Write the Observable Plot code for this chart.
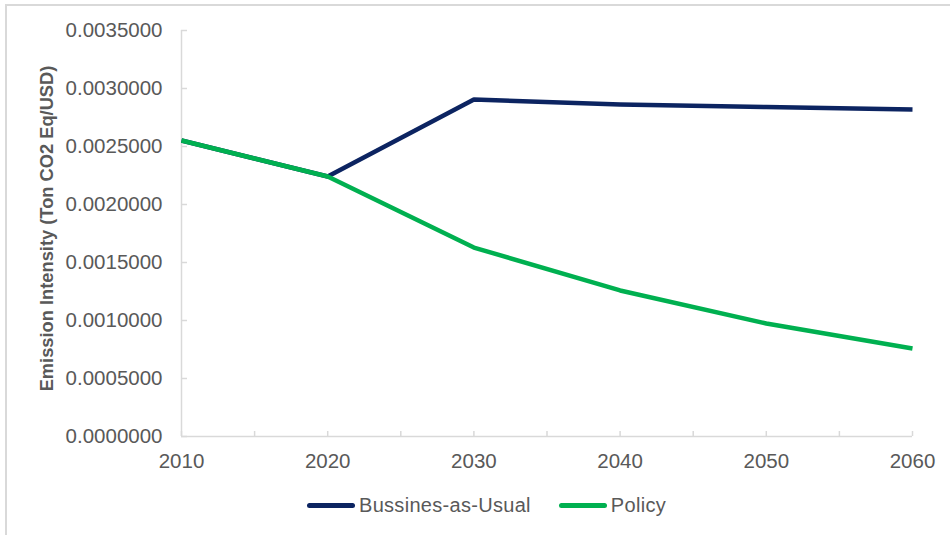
<!DOCTYPE html>
<html>
<head>
<meta charset="utf-8">
<script src="https://cdn.jsdelivr.net/npm/d3@7"></script>
<script src="https://cdn.jsdelivr.net/npm/@observablehq/plot@0.6"></script>
<style>
  html, body { margin: 0; padding: 0; background: #fff; }
  body { width: 950px; height: 535px; position: relative; overflow: hidden; font-family: "Liberation Sans", Arial, sans-serif; }
  #frame { position: absolute; left: 5px; top: 4px; width: 960px; height: 560px; border-top: 2px solid #d9d9d9; border-left: 2px solid #d9d9d9; box-sizing: border-box; }
  #chart { position: absolute; left: 0; top: 0; }
  #legend { position: absolute; left: 307px; top: 494px; display: flex; align-items: center; font-size: 20px; color: #595959; letter-spacing: 0.3px; }
  .item { display: flex; align-items: center; }
  .sw { width: 48px; height: 5px; border-radius: 3px; margin-right: 4px; }
</style>
</head>
<body>
<div id="frame"></div>
<div id="chart"></div>
<div id="legend"></div>
<script>
const years = [2010, 2020, 2030, 2040, 2050, 2060];
const seriesNames = ["Bussines-as-Usual", "Policy"];
const bauValues = [0.002552, 0.002241, 0.002905, 0.002862, 0.002840, 0.002819];
const policyValues = [0.002552, 0.002241, 0.001629, 0.001259, 0.000974, 0.000759];
const seriesColors = ["#0c2461", "#00b050"];
const yTicks = [0, 0.0005, 0.001, 0.0015, 0.002, 0.0025, 0.003, 0.0035];
const xTicks = [2010, 2015, 2020, 2025, 2030, 2035, 2040, 2045, 2050, 2055, 2060];
const yTitle = "Emission Intensity (Ton CO2 Eq/USD)";

const data = [
  ...years.map((yr, i) => ({year: yr, value: bauValues[i], series: seriesNames[0]})),
  ...years.map((yr, i) => ({year: yr, value: policyValues[i], series: seriesNames[1]}))
];

const grey = "#595959";
const axisGrey = "#d9d9d9";

const chart = Plot.plot({
  width: 950,
  height: 480,
  marginLeft: 181,
  marginRight: 38,
  marginTop: 30,
  marginBottom: 44,
  style: {fontFamily: "'Liberation Sans', Arial, sans-serif", fontSize: "20px", color: grey, background: "transparent", overflow: "visible"},
  x: {domain: [2010, 2060]},
  y: {domain: [0, 0.0035]},
  color: {domain: seriesNames, range: seriesColors},
  marks: [
    Plot.ruleX([2010], {stroke: axisGrey, strokeWidth: 1.5}),
    Plot.ruleY([0], {stroke: axisGrey, strokeWidth: 1.5}),
    Plot.axisY({ticks: yTicks, tickSize: -6, tickFormat: () => "", stroke: axisGrey, strokeWidth: 1.5, label: null}),
    Plot.axisY({ticks: yTicks, tickSize: 0, tickPadding: 19, tickFormat: d => d.toFixed(7), fill: grey, label: null, fontSize: 20.5}),
    Plot.axisX({ticks: xTicks, tickSize: -5, tickFormat: () => "", stroke: axisGrey, strokeWidth: 1.5, label: null}),
    Plot.axisX({ticks: years, tickSize: 0, tickPadding: 17, tickFormat: d => String(d), fill: grey, label: null, fontSize: 20.5}),
    Plot.text([yTitle], {frameAnchor: "left", dx: -134, dy: -5, rotate: -90, textAnchor: "middle", text: d => d, fill: grey, fontWeight: "bold", fontSize: 18.3}),
    Plot.line(data, {x: "year", y: "value", z: "series", stroke: "series", strokeWidth: 4.5, strokeLinecap: "butt", strokeLinejoin: "round"})
  ]
});
document.getElementById("chart").appendChild(chart);

const legend = document.getElementById("legend");
seriesNames.forEach((name, i) => {
  const item = document.createElement("div");
  item.className = "item";
  if (i > 0) item.style.marginLeft = "28px";
  const sw = document.createElement("div");
  sw.className = "sw";
  sw.style.background = seriesColors[i];
  const label = document.createElement("span");
  label.textContent = name;
  item.appendChild(sw);
  item.appendChild(label);
  legend.appendChild(item);
});
</script>
</body>
</html>
